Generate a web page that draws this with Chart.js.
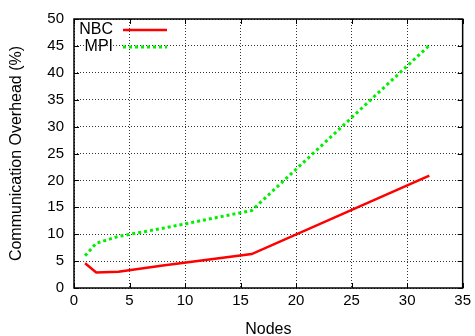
<!DOCTYPE html>
<html>
<head>
<meta charset="utf-8">
<script src="https://cdn.jsdelivr.net/npm/chart.js@4"></script>
<style>
  html, body { margin: 0; padding: 0; background: #fff; }
  #wrap { width: 475px; height: 336px; }
</style>
</head>
<body>
<div id="wrap"><canvas id="overheadChart" width="475" height="336"></canvas></div>
<script>
const nodes = [1, 2, 4, 8, 16, 32];
const nbcOverhead = [4.6, 2.9, 3.0, 4.2, 6.3, 20.9];
const mpiOverhead = [6.0, 8.3, 9.6, 11.1, 14.4, 45.1];
const seriesNames = ["NBC", "MPI"];
const xTitle = "Nodes";
const yTitle = "Communication Overhead (%)";

const toPoints = (ys) => nodes.map((x, i) => ({ x: x, y: ys[i] }));
const FONT = "'Liberation Sans', Arial, sans-serif";

// box around the plot, small inward tick marks and the key
const framePlugin = {
  id: "frame",
  afterDraw(chart) {
    const { ctx, chartArea: a, scales } = chart;
    ctx.save();
    ctx.strokeStyle = "#000";
    ctx.lineWidth = 1.5;
    ctx.setLineDash([]);
    ctx.strokeRect(a.left, a.top, a.right - a.left, a.bottom - a.top);

    ctx.lineWidth = 1;
    scales.x.ticks.forEach((t) => {
      const px = Math.round(scales.x.getPixelForValue(t.value)) + 0.5;
      ctx.beginPath();
      ctx.moveTo(px, a.bottom); ctx.lineTo(px, a.bottom - 5);
      ctx.moveTo(px, a.top); ctx.lineTo(px, a.top + 5);
      ctx.stroke();
    });
    scales.y.ticks.forEach((t) => {
      const py = Math.round(scales.y.getPixelForValue(t.value)) + 0.5;
      ctx.beginPath();
      ctx.moveTo(a.left, py); ctx.lineTo(a.left + 5, py);
      ctx.moveTo(a.right, py); ctx.lineTo(a.right - 5, py);
      ctx.stroke();
    });

    // key
    ctx.font = "16px " + FONT;
    ctx.fillStyle = "#000";
    ctx.textAlign = "right";
    ctx.textBaseline = "middle";
    chart.data.datasets.forEach((ds, i) => {
      const y = a.top + 11 + i * 17;
      ctx.fillText(ds.label, a.left + 39, y);
      ctx.strokeStyle = ds.borderColor;
      ctx.lineWidth = ds.borderWidth;
      ctx.setLineDash(ds.borderDash || []);
      ctx.beginPath();
      ctx.moveTo(a.left + 49, y);
      ctx.lineTo(a.left + 93, y);
      ctx.stroke();
    });
    ctx.restore();
  },
};

new Chart(document.getElementById("overheadChart").getContext("2d"), {
  type: "line",
  data: {
    datasets: [
      {
        label: seriesNames[0],
        data: toPoints(nbcOverhead),
        borderColor: "#ff0000",
        borderWidth: 2.5,
        pointRadius: 0,
        fill: false,
        tension: 0,
      },
      {
        label: seriesNames[1],
        data: toPoints(mpiOverhead),
        borderColor: "#00ee00",
        borderWidth: 3,
        borderDash: [3, 3],
        borderCapStyle: "butt",
        pointRadius: 0,
        fill: false,
        tension: 0,
      },
    ],
  },
  options: {
    responsive: false,
    animation: false,
    layout: { padding: { top: 14, right: 12, left: 0, bottom: 0 } },
    plugins: {
      legend: { display: false },
      tooltip: { enabled: false },
    },
    scales: {
      x: {
        type: "linear",
        min: 0,
        max: 35,
        ticks: { stepSize: 5, color: "#000", font: { family: FONT, size: 15 }, padding: 4 },
        grid: { color: "#333", drawTicks: false },
        border: { display: false, dash: [1, 2] },
        title: { display: true, text: xTitle, color: "#000", font: { family: FONT, size: 16 }, padding: { top: 0, bottom: -3 } },
        afterFit: (scale) => { scale.height = 48; },
      },
      y: {
        type: "linear",
        min: 0,
        max: 50,
        ticks: { stepSize: 5, color: "#000", font: { family: FONT, size: 15 }, padding: 10 },
        grid: { color: "#333", drawTicks: false },
        border: { display: false, dash: [1, 2] },
        title: { display: true, text: yTitle, color: "#000", font: { family: FONT, size: 16 }, padding: { top: 7, bottom: 0 } },
        afterFit: (scale) => { scale.width = 74; },
      },
    },
  },
  plugins: [framePlugin],
});
</script>
</body>
</html>
